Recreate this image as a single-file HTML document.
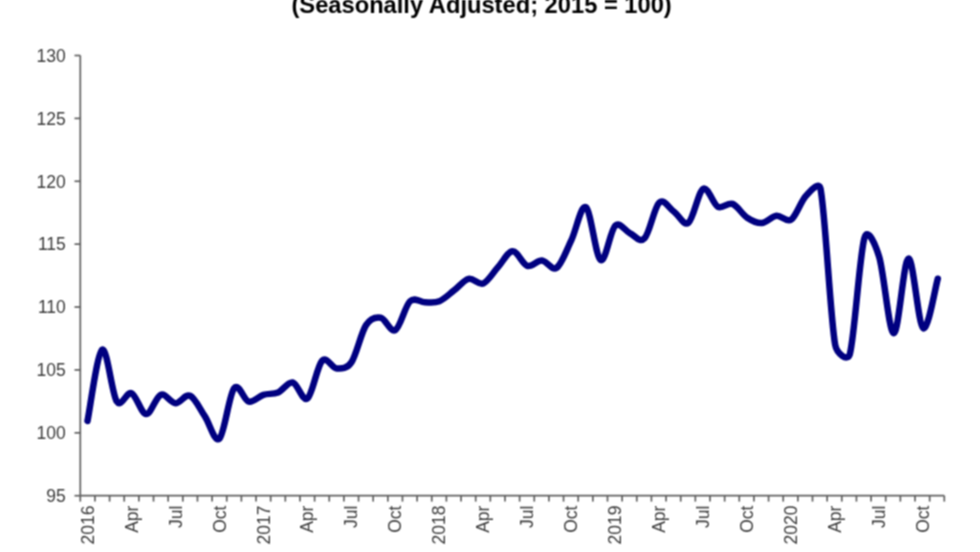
<!DOCTYPE html>
<html><head><meta charset="utf-8"><style>
html,body{margin:0;padding:0;background:#fff;}
body{width:980px;height:552px;overflow:hidden;position:relative;}
svg{position:absolute;left:0;top:0;}
.ax{stroke:#606060;stroke-width:1.7;fill:none;}
.yl{font-family:"Liberation Sans",Arial,sans-serif;font-size:17.5px;fill:#3a3a3a;text-anchor:end;}
.xl{font-family:"Liberation Sans",Arial,sans-serif;font-size:17.5px;fill:#3a3a3a;text-anchor:end;}
.tt{font-family:"Liberation Sans",Arial,sans-serif;font-size:23.7px;font-weight:bold;fill:#000;text-anchor:middle;}
.ln{stroke:#000080;stroke-width:6.5;fill:none;stroke-linecap:round;stroke-linejoin:round;}
</style></head><body>
<svg width="980" height="552" viewBox="0 0 980 552">
<defs><filter id="bl" x="-5%" y="-5%" width="110%" height="110%"><feConvolveMatrix order="3" kernelMatrix="1 2 1 2 4 2 1 2 1" divisor="16" edgeMode="none" preserveAlpha="false"/></filter></defs>
<g filter="url(#bl)">
<text x="481.6" y="13.1" class="tt">(Seasonally Adjusted; 2015 = 100)</text>
<line x1="80.30" y1="55.50" x2="80.30" y2="495.70" class="ax"/>
<line x1="80.30" y1="495.70" x2="944.30" y2="495.70" class="ax"/>
<line x1="74.5" y1="55.50" x2="80.30" y2="55.50" class="ax"/>
<text x="65.8" y="61.80" class="yl">130</text>
<line x1="74.5" y1="118.39" x2="80.30" y2="118.39" class="ax"/>
<text x="65.8" y="124.69" class="yl">125</text>
<line x1="74.5" y1="181.27" x2="80.30" y2="181.27" class="ax"/>
<text x="65.8" y="187.57" class="yl">120</text>
<line x1="74.5" y1="244.16" x2="80.30" y2="244.16" class="ax"/>
<text x="65.8" y="250.46" class="yl">115</text>
<line x1="74.5" y1="307.04" x2="80.30" y2="307.04" class="ax"/>
<text x="65.8" y="313.34" class="yl">110</text>
<line x1="74.5" y1="369.93" x2="80.30" y2="369.93" class="ax"/>
<text x="65.8" y="376.23" class="yl">105</text>
<line x1="74.5" y1="432.81" x2="80.30" y2="432.81" class="ax"/>
<text x="65.8" y="439.11" class="yl">100</text>
<line x1="74.5" y1="495.70" x2="80.30" y2="495.70" class="ax"/>
<text x="65.8" y="502.00" class="yl">95</text>
<line x1="80.30" y1="495.70" x2="80.30" y2="501.6" class="ax"/>
<line x1="94.94" y1="495.70" x2="94.94" y2="501.6" class="ax"/>
<line x1="109.59" y1="495.70" x2="109.59" y2="501.6" class="ax"/>
<line x1="124.23" y1="495.70" x2="124.23" y2="501.6" class="ax"/>
<line x1="138.88" y1="495.70" x2="138.88" y2="501.6" class="ax"/>
<line x1="153.52" y1="495.70" x2="153.52" y2="501.6" class="ax"/>
<line x1="168.16" y1="495.70" x2="168.16" y2="501.6" class="ax"/>
<line x1="182.81" y1="495.70" x2="182.81" y2="501.6" class="ax"/>
<line x1="197.45" y1="495.70" x2="197.45" y2="501.6" class="ax"/>
<line x1="212.10" y1="495.70" x2="212.10" y2="501.6" class="ax"/>
<line x1="226.74" y1="495.70" x2="226.74" y2="501.6" class="ax"/>
<line x1="241.38" y1="495.70" x2="241.38" y2="501.6" class="ax"/>
<line x1="256.03" y1="495.70" x2="256.03" y2="501.6" class="ax"/>
<line x1="270.67" y1="495.70" x2="270.67" y2="501.6" class="ax"/>
<line x1="285.32" y1="495.70" x2="285.32" y2="501.6" class="ax"/>
<line x1="299.96" y1="495.70" x2="299.96" y2="501.6" class="ax"/>
<line x1="314.61" y1="495.70" x2="314.61" y2="501.6" class="ax"/>
<line x1="329.25" y1="495.70" x2="329.25" y2="501.6" class="ax"/>
<line x1="343.89" y1="495.70" x2="343.89" y2="501.6" class="ax"/>
<line x1="358.54" y1="495.70" x2="358.54" y2="501.6" class="ax"/>
<line x1="373.18" y1="495.70" x2="373.18" y2="501.6" class="ax"/>
<line x1="387.83" y1="495.70" x2="387.83" y2="501.6" class="ax"/>
<line x1="402.47" y1="495.70" x2="402.47" y2="501.6" class="ax"/>
<line x1="417.11" y1="495.70" x2="417.11" y2="501.6" class="ax"/>
<line x1="431.76" y1="495.70" x2="431.76" y2="501.6" class="ax"/>
<line x1="446.40" y1="495.70" x2="446.40" y2="501.6" class="ax"/>
<line x1="461.05" y1="495.70" x2="461.05" y2="501.6" class="ax"/>
<line x1="475.69" y1="495.70" x2="475.69" y2="501.6" class="ax"/>
<line x1="490.33" y1="495.70" x2="490.33" y2="501.6" class="ax"/>
<line x1="504.98" y1="495.70" x2="504.98" y2="501.6" class="ax"/>
<line x1="519.62" y1="495.70" x2="519.62" y2="501.6" class="ax"/>
<line x1="534.27" y1="495.70" x2="534.27" y2="501.6" class="ax"/>
<line x1="548.91" y1="495.70" x2="548.91" y2="501.6" class="ax"/>
<line x1="563.55" y1="495.70" x2="563.55" y2="501.6" class="ax"/>
<line x1="578.20" y1="495.70" x2="578.20" y2="501.6" class="ax"/>
<line x1="592.84" y1="495.70" x2="592.84" y2="501.6" class="ax"/>
<line x1="607.49" y1="495.70" x2="607.49" y2="501.6" class="ax"/>
<line x1="622.13" y1="495.70" x2="622.13" y2="501.6" class="ax"/>
<line x1="636.77" y1="495.70" x2="636.77" y2="501.6" class="ax"/>
<line x1="651.42" y1="495.70" x2="651.42" y2="501.6" class="ax"/>
<line x1="666.06" y1="495.70" x2="666.06" y2="501.6" class="ax"/>
<line x1="680.71" y1="495.70" x2="680.71" y2="501.6" class="ax"/>
<line x1="695.35" y1="495.70" x2="695.35" y2="501.6" class="ax"/>
<line x1="709.99" y1="495.70" x2="709.99" y2="501.6" class="ax"/>
<line x1="724.64" y1="495.70" x2="724.64" y2="501.6" class="ax"/>
<line x1="739.28" y1="495.70" x2="739.28" y2="501.6" class="ax"/>
<line x1="753.93" y1="495.70" x2="753.93" y2="501.6" class="ax"/>
<line x1="768.57" y1="495.70" x2="768.57" y2="501.6" class="ax"/>
<line x1="783.22" y1="495.70" x2="783.22" y2="501.6" class="ax"/>
<line x1="797.86" y1="495.70" x2="797.86" y2="501.6" class="ax"/>
<line x1="812.50" y1="495.70" x2="812.50" y2="501.6" class="ax"/>
<line x1="827.15" y1="495.70" x2="827.15" y2="501.6" class="ax"/>
<line x1="841.79" y1="495.70" x2="841.79" y2="501.6" class="ax"/>
<line x1="856.44" y1="495.70" x2="856.44" y2="501.6" class="ax"/>
<line x1="871.08" y1="495.70" x2="871.08" y2="501.6" class="ax"/>
<line x1="885.72" y1="495.70" x2="885.72" y2="501.6" class="ax"/>
<line x1="900.37" y1="495.70" x2="900.37" y2="501.6" class="ax"/>
<line x1="915.01" y1="495.70" x2="915.01" y2="501.6" class="ax"/>
<line x1="929.66" y1="495.70" x2="929.66" y2="501.6" class="ax"/>
<line x1="944.30" y1="495.70" x2="944.30" y2="501.6" class="ax"/>
<text transform="translate(93.82,505.6) rotate(-90)" class="xl">2016</text>
<text transform="translate(137.75,505.6) rotate(-90)" class="xl">Apr</text>
<text transform="translate(181.69,505.6) rotate(-90)" class="xl">Jul</text>
<text transform="translate(225.62,505.6) rotate(-90)" class="xl">Oct</text>
<text transform="translate(269.55,505.6) rotate(-90)" class="xl">2017</text>
<text transform="translate(313.48,505.6) rotate(-90)" class="xl">Apr</text>
<text transform="translate(357.42,505.6) rotate(-90)" class="xl">Jul</text>
<text transform="translate(401.35,505.6) rotate(-90)" class="xl">Oct</text>
<text transform="translate(445.28,505.6) rotate(-90)" class="xl">2018</text>
<text transform="translate(489.21,505.6) rotate(-90)" class="xl">Apr</text>
<text transform="translate(533.14,505.6) rotate(-90)" class="xl">Jul</text>
<text transform="translate(577.08,505.6) rotate(-90)" class="xl">Oct</text>
<text transform="translate(621.01,505.6) rotate(-90)" class="xl">2019</text>
<text transform="translate(664.94,505.6) rotate(-90)" class="xl">Apr</text>
<text transform="translate(708.87,505.6) rotate(-90)" class="xl">Jul</text>
<text transform="translate(752.81,505.6) rotate(-90)" class="xl">Oct</text>
<text transform="translate(796.74,505.6) rotate(-90)" class="xl">2020</text>
<text transform="translate(840.67,505.6) rotate(-90)" class="xl">Apr</text>
<text transform="translate(884.60,505.6) rotate(-90)" class="xl">Jul</text>
<text transform="translate(928.53,505.6) rotate(-90)" class="xl">Oct</text>
<path class="ln" d="M87.50,420.99 C89.94,409.13 97.27,353.05 102.16,349.81 C107.05,346.56 111.93,394.27 116.82,401.50 C121.54,408.48 126.59,391.12 131.48,393.20 C136.37,395.27 141.25,413.68 146.14,413.95 C151.03,414.22 155.91,396.61 160.80,394.83 C165.69,393.05 170.57,403.11 175.46,403.26 C180.35,403.40 185.23,393.57 190.12,395.71 C195.01,397.85 199.89,408.94 204.78,416.09 C209.67,423.23 214.55,443.23 219.44,438.60 C224.33,433.97 229.21,394.45 234.10,388.29 C238.99,382.13 243.87,400.53 248.76,401.62 C253.65,402.71 258.53,396.36 263.42,394.83 C268.31,393.30 273.19,394.50 278.08,392.44 C282.97,390.39 287.85,381.50 292.74,382.51 C297.63,383.51 302.51,402.08 307.40,398.48 C312.29,394.87 317.17,365.88 322.06,360.87 C326.95,355.86 331.83,368.17 336.72,368.42 C341.61,368.67 346.93,368.94 351.38,362.38 C356.27,355.17 361.15,332.60 366.04,325.15 C370.55,318.29 375.81,316.92 380.70,317.73 C385.59,318.55 390.47,332.81 395.36,330.06 C400.25,327.31 405.13,305.89 410.02,301.26 C414.91,296.62 419.79,302.26 424.68,302.26 C429.57,302.26 434.45,303.23 439.34,301.26 C444.23,299.29 449.11,294.17 454.00,290.44 C458.89,286.71 463.77,280.04 468.66,278.87 C473.55,277.70 478.43,285.35 483.32,283.40 C488.21,281.45 493.09,272.54 497.98,267.17 C502.87,261.81 507.75,251.43 512.64,251.20 C517.53,250.97 522.41,264.24 527.30,265.79 C532.19,267.34 537.07,260.17 541.96,260.51 C546.85,260.84 551.73,271.16 556.62,267.80 C561.51,264.45 566.39,250.47 571.28,240.38 C576.17,230.30 581.05,204.04 585.94,207.31 C590.83,210.58 595.71,256.94 600.60,260.00 C605.49,263.06 610.37,230.13 615.26,225.67 C620.15,221.20 625.03,231.10 629.92,233.22 C634.81,235.33 639.69,243.47 644.58,238.37 C649.47,233.28 654.35,207.12 659.24,202.65 C664.13,198.19 669.01,208.25 673.90,211.58 C678.79,214.92 683.67,226.44 688.56,222.65 C693.45,218.86 698.33,191.46 703.22,188.82 C708.11,186.18 712.99,204.29 717.88,206.80 C722.77,209.32 727.65,202.09 732.54,203.91 C737.43,205.73 742.31,214.56 747.20,217.75 C752.09,220.93 756.97,223.36 761.86,223.03 C766.75,222.69 771.63,216.30 776.52,215.73 C781.41,215.17 786.29,222.92 791.18,219.63 C796.07,216.34 800.95,201.14 805.84,195.99 C810.73,190.83 818.92,180.66 820.50,188.69 C825.39,213.49 830.27,317.21 835.16,344.77 C836.68,353.32 847.52,362.45 849.82,354.08 C854.71,336.26 859.59,254.09 864.48,237.87 C867.93,226.43 875.63,245.32 879.14,256.73 C884.03,272.62 888.91,332.89 893.80,333.20 C898.69,333.52 903.57,259.46 908.46,258.62 C913.35,257.78 918.23,324.82 923.12,328.17 C928.01,331.53 935.34,286.98 937.78,278.74"/>
</g>
</svg>
</body></html>
